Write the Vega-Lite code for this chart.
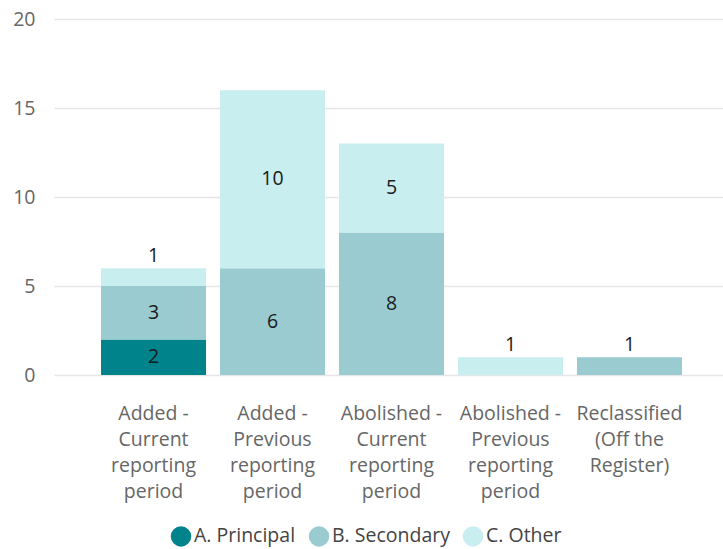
{
  "$schema": "https://vega.github.io/schema/vega-lite/v6.json",
  "width": 669,
  "height": 356,
  "autosize": "none",
  "padding": {"left": 54, "top": 19, "right": 0, "bottom": 174},
  "background": "white",
  "config": {
    "view": {"stroke": null},
    "font": "Open Sans",
    "axis": {"labelFont": "Open Sans", "labelFontSize": 19.5, "labelColor": "#666666"}
  },
  "data": {
    "values": [
      {"category": "Added - Current reporting period", "type": "A. Principal", "value": 2},
      {"category": "Added - Current reporting period", "type": "B. Secondary", "value": 3},
      {"category": "Added - Current reporting period", "type": "C. Other", "value": 1},
      {"category": "Added - Previous reporting period", "type": "B. Secondary", "value": 6},
      {"category": "Added - Previous reporting period", "type": "C. Other", "value": 10},
      {"category": "Abolished - Current reporting period", "type": "B. Secondary", "value": 8},
      {"category": "Abolished - Current reporting period", "type": "C. Other", "value": 5},
      {"category": "Abolished - Previous reporting period", "type": "C. Other", "value": 1},
      {"category": "Reclassified (Off the Register)", "type": "B. Secondary", "value": 1}
    ]
  },
  "transform": [
    {"stack": "value", "groupby": ["category"], "sort": [{"field": "type", "order": "ascending"}], "as": ["v0", "v1"]}
  ],
  "encoding": {
    "x": {
      "field": "category",
      "type": "nominal",
      "sort": null,
      "scale": {"paddingInner": 0.1176, "paddingOuter": 0.37, "align": 0.534},
      "axis": {
        "title": null,
        "labelAngle": 0,
        "domain": false,
        "ticks": false,
        "labelPadding": 29,
        "labelLineHeight": 26,
        "labelBaseline": "top",
        "labelExpr": "{'Added - Current reporting period': ['Added -','Current','reporting','period'], 'Added - Previous reporting period': ['Added -','Previous','reporting','period'], 'Abolished - Current reporting period': ['Abolished -','Current','reporting','period'], 'Abolished - Previous reporting period': ['Abolished -','Previous','reporting','period'], 'Reclassified (Off the Register)': ['Reclassified','(Off the','Register)']}[datum.value]"
      }
    }
  },
  "layer": [
    {
      "mark": {"type": "bar"},
      "encoding": {
        "y": {
          "field": "v0",
          "type": "quantitative",
          "scale": {"domain": [0, 20]},
          "axis": {
            "title": null,
            "values": [0, 5, 10, 15, 20],
            "domain": false,
            "ticks": false,
            "gridColor": "#e6e6e6",
            "gridWidth": 1.5,
            "labelPadding": 19
          }
        },
        "y2": {"field": "v1"},
        "color": {
          "field": "type",
          "type": "nominal",
          "scale": {
            "domain": ["A. Principal", "B. Secondary", "C. Other"],
            "range": ["#00838A", "#99CBD0", "#C8EEF0"]
          },
          "legend": {
            "title": null,
            "orient": "none",
            "direction": "horizontal",
            "legendX": 116,
            "legendY": 506,
            "symbolType": "circle",
            "symbolSize": 420,
            "symbolOpacity": 1,
            "labelFont": "Open Sans",
            "labelFontSize": 19.5,
            "labelColor": "#444444",
            "columnPadding": 12,
            "labelOffset": 2
          }
        }
      }
    },
    {
      "transform": [
        {"filter": "datum.value > 1"},
        {"fold": ["v0", "v1"], "as": ["edge", "pos"]}
      ],
      "mark": {"type": "text", "fontSize": 19.5, "color": "#1a1a1a", "font": "Open Sans"},
      "encoding": {
        "y": {"aggregate": "mean", "field": "pos", "type": "quantitative"},
        "detail": {"field": "type"},
        "text": {"aggregate": "max", "field": "value", "type": "quantitative"}
      }
    },
    {
      "transform": [{"filter": "datum.value == 1"}],
      "mark": {"type": "text", "fontSize": 19.5, "color": "#1a1a1a", "font": "Open Sans", "baseline": "bottom", "dy": -2},
      "encoding": {
        "y": {"field": "v1", "type": "quantitative"},
        "text": {"field": "value", "type": "quantitative"}
      }
    }
  ]
}
